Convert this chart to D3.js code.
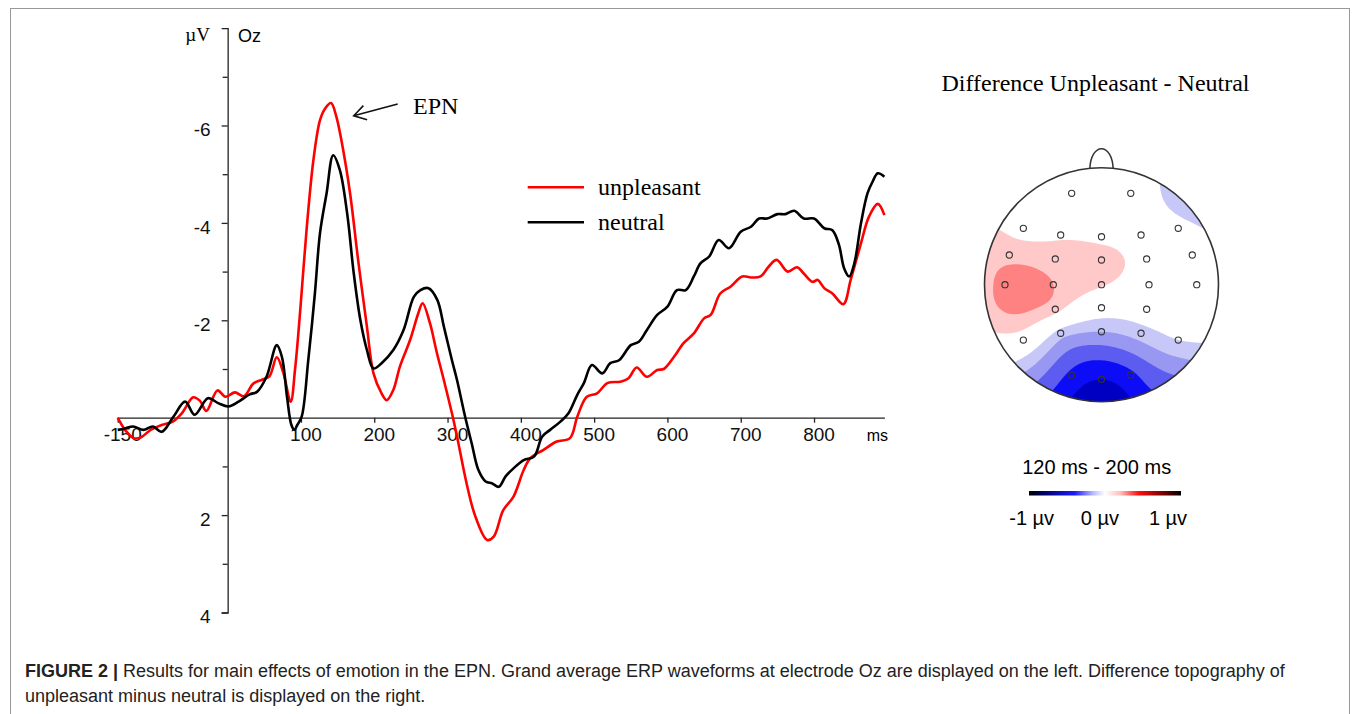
<!DOCTYPE html>
<html>
<head>
<meta charset="utf-8">
<script src="https://cdnjs.cloudflare.com/ajax/libs/d3/7.8.5/d3.min.js"></script>
<style>
  body { margin: 0; background: #fff; }
  svg { display: block; font-family: "Liberation Sans", Arial, sans-serif; }
</style>
</head>
<body>
<svg id="fig" width="1358" height="714"></svg>
<script>
// Grand average ERP at Oz (ms, µV; negative is up)
const unpleasantMs = [-150,-140,-128,-118,-105,-90,-75,-62,-47,-38,-29,-14,-3,10,22,35,47,57,67,76,
  86,92,99,108,117,126,133,141,148,156,167,178,190,199,210,217,226,235,249,260,
  266,276,285,295,306,313,326,338,354,363,376,390,404,413,431,449,467,477,490,504,
  518,536,547,558,572,586,595,609,622,636,650,659,672,686,702,714,727,738,749,764,
  777,786,798,805,814,825,840,850,864,875,887,896];
const unpleasantUv = [0.0,0.25,0.42,0.40,0.25,0.15,0.08,-0.10,-0.42,-0.35,-0.14,-0.56,-0.43,-0.52,-0.44,-0.70,-0.78,-0.85,-1.24,-0.92,
  -0.33,-1.0,-2.2,-3.92,-5.29,-6.11,-6.35,-6.46,-6.2,-5.63,-4.61,-3.24,-1.87,-0.91,-0.50,-0.36,-0.57,-1.05,-1.60,-2.14,
  -2.35,-1.94,-1.36,-0.77,-0.09,0.39,1.35,2.03,2.51,2.44,1.90,1.62,1.07,0.83,0.66,0.49,0.42,-0.02,-0.43,-0.50,
  -0.71,-0.74,-0.81,-1.03,-0.84,-0.98,-1.0,-1.25,-1.53,-1.73,-2.04,-2.11,-2.55,-2.69,-2.90,-2.88,-2.90,-3.10,-3.24,-3.0,
  -3.09,-2.96,-2.79,-2.83,-2.66,-2.55,-2.33,-2.83,-3.58,-4.13,-4.39,-4.16];

const neutralMs = [-150,-140,-129,-115,-102,-90,-74,-58,-45,-27,-13,1,15,30,40,53,67,74,81,87,
  91,95,101,110,119,126,135,144,153,163,172,181,190,199,210,226,240,254,263,274,
  286,295,306,313,324,333,342,352,361,370,379,390,404,418,429,440,454,465,477,486,
  497,511,522,534,550,561,572,586,600,613,625,636,645,657,670,684,700,714,725,736,
  750,761,773,786,800,814,825,834,841,848,855,864,873,880,887,896];
const neutralUv = [0.25,0.22,0.18,0.25,0.18,0.29,-0.02,-0.33,-0.06,-0.40,-0.30,-0.23,-0.33,-0.48,-0.53,-0.84,-1.49,-1.25,-0.43,0.15,
  0.25,0.15,-0.02,-1.18,-2.55,-3.79,-4.61,-5.39,-5.09,-4.20,-2.97,-2.01,-1.39,-1.01,-1.12,-1.39,-1.80,-2.48,-2.62,-2.66,
  -2.42,-1.87,-1.18,-0.77,-0.02,0.53,1.07,1.31,1.35,1.42,1.21,1.04,0.87,0.80,0.39,0.25,0.08,-0.09,-0.47,-0.71,
  -1.08,-0.91,-1.12,-1.18,-1.49,-1.56,-1.80,-2.11,-2.28,-2.62,-2.62,-2.90,-3.17,-3.31,-3.65,-3.48,-3.82,-3.92,-4.09,-4.09,
  -4.18,-4.18,-4.25,-4.09,-4.09,-3.89,-3.85,-3.55,-3.07,-2.90,-3.17,-3.99,-4.61,-4.85,-5.02,-4.95];

const xTickValues = [-150,100,200,300,400,500,600,700,800];
const yTickValues = [-6,-4,-2,2,4];
const yMinorTicks = [-7,-5,-3,-1,1,3];
const seriesNames = ["unpleasant","neutral"];
const epnArrow = {from: [232,-6.44], to: [172,-6.2]};

// Topography: electrode positions in head units (-1..1) and difference values (µV)
const electrodeX = [-0.255,0.25,-0.668,-0.349,0,0.338,0.656,-0.788,-0.395,0,0.386,0.776,-0.825,-0.412,0,0.406,0.814,
  -0.395,0,0.386,-0.668,-0.349,0,0.338,0.656,-0.255,0,0.25];
const electrodeY = [-0.781,-0.781,-0.482,-0.425,-0.41,-0.425,-0.482,-0.254,-0.22,-0.211,-0.22,-0.254,0,0,0,0,0,
  0.21,0.197,0.21,0.473,0.415,0.402,0.415,0.473,0.772,0.809,0.772];
const electrodeUv = [0.0,-0.05,0.12,0.17,0.12,0.03,-0.1,0.32,0.3,0.34,0.1,0.0,0.52,0.4,0.22,0.02,0.0,
  0.28,-0.05,-0.05,0.06,-0.3,-0.4,-0.3,-0.2,-0.85,-1.0,-0.85];
const rimAngleDeg = [0,22.5,45,67.5,90,112.5,135,157.5,180,202.5,225,247.5,270,292.5,315,337.5];
const rimUv = [0.0,-0.12,-0.32,-0.15,-0.02,-0.1,-0.5,-0.85,-1.15,-0.85,-0.3,0.22,0.3,0.26,0.05,0.0];
const redLevels = [0.2,0.4];
const blueLevels = [-0.2,-0.4,-0.6,-0.8,-1.0];
const redColors = ["#ffc9c9","#ff8282"];
const blueColors = ["#c8c8f8","#9898f3","#5c5cf0","#0c0cf6","#0000c2"];

const svg = d3.select("#fig");

// frame
svg.append("rect").attr("x",10.5).attr("y",8.5).attr("width",1339).attr("height",740)
  .attr("fill","none").attr("stroke","#999").attr("stroke-width",1);

// ---------- ERP panel ----------
const x = d3.scaleLinear().domain([-150,896]).range([117.7,884.4]);
const y = d3.scaleLinear().domain([-8,4]).range([28.1,612.5]);

const xAxis = svg.append("g").attr("transform",`translate(0,${y(0)})`)
  .call(d3.axisBottom(x).tickValues(xTickValues).tickSize(5).tickSizeOuter(0).tickPadding(5).tickFormat(d => String(d)));
xAxis.selectAll("text").attr("font-size",19).attr("dx",4.5).attr("fill","#111").attr("font-family","Liberation Sans, Arial");

const yAxis = svg.append("g").attr("transform",`translate(${x(0)},0)`)
  .call(d3.axisLeft(y).tickValues(yTickValues).tickSize(6).tickSizeOuter(6).tickPadding(11).tickFormat(d => String(d)));
yAxis.selectAll("text").attr("font-size",19).attr("dy","0.55em").attr("fill","#111").attr("font-family","Liberation Sans, Arial");
svg.append("g").attr("transform",`translate(${x(0)},0)`)
  .call(d3.axisLeft(y).tickValues(yMinorTicks).tickSize(5).tickFormat(""))
  .select(".domain").remove();
svg.selectAll(".domain, .tick line").attr("stroke","#222").attr("stroke-width",1.3);

svg.append("text").attr("x",888).attr("y",441).attr("text-anchor","end").attr("font-size",16).text("ms");
svg.append("text").attr("x",210).attr("y",41).attr("text-anchor","end")
  .attr("font-family","Liberation Serif, Times New Roman, serif").attr("font-size",19).text("µV");
svg.append("text").attr("x",238).attr("y",42).attr("font-size",18).text("Oz");

const line = d3.line().x(d => x(d[0])).y(d => y(d[1])).curve(d3.curveCatmullRom.alpha(0.5));
const seriesData = [
  {name: seriesNames[0], color: "#ff0000", pts: d3.zip(unpleasantMs, unpleasantUv)},
  {name: seriesNames[1], color: "#000000", pts: d3.zip(neutralMs, neutralUv)}
];
svg.append("g").selectAll("path").data(seriesData).join("path")
  .attr("d", d => line(d.pts)).attr("fill","none")
  .attr("stroke", d => d.color).attr("stroke-width",2.6).attr("stroke-linejoin","round");

// legend
const legend = svg.append("g").attr("font-family","Liberation Serif, Times New Roman, serif").attr("font-size",24);
seriesData.forEach((s, i) => {
  const ly = 187.3 + i * 35;
  legend.append("line").attr("x1",527.7).attr("x2",584).attr("y1",ly).attr("y2",ly)
    .attr("stroke",s.color).attr("stroke-width",2.6);
  legend.append("text").attr("x",598).attr("y",ly + 7.5).text(s.name);
});

// EPN annotation
const ax1 = x(epnArrow.from[0]), ay1 = y(epnArrow.from[1]);
const ax2 = x(epnArrow.to[0]), ay2 = y(epnArrow.to[1]);
const ang = Math.atan2(ay1 - ay2, ax1 - ax2);
const head = [ang + 0.55, ang - 0.55].map(a => [ax2 + 14 * Math.cos(a), ay2 + 14 * Math.sin(a)]);
svg.append("path")
  .attr("d", `M${ax1},${ay1}L${ax2},${ay2}M${head[0]}L${ax2},${ay2}L${head[1]}`)
  .attr("fill","none").attr("stroke","#111").attr("stroke-width",1.6);
svg.append("text").attr("x",413).attr("y",114)
  .attr("font-family","Liberation Serif, Times New Roman, serif").attr("font-size",24).text("EPN");

// ---------- topography ----------
const cx = 1101.5, cy = 284.7, R = 117;

svg.append("text").attr("x",1095.5).attr("y",91).attr("text-anchor","middle")
  .attr("font-family","Liberation Serif, Times New Roman, serif").attr("font-size",24)
  .text("Difference Unpleasant - Neutral");

// thin-plate spline through electrodes and rim points
const srcPts = electrodeX.map((ex, i) => [ex, electrodeY[i]])
  .concat(rimAngleDeg.map(a => [Math.sin(a * Math.PI / 180), -Math.cos(a * Math.PI / 180)]));
const srcVal = electrodeUv.concat(rimUv);

function tps(pts, vals) {
  const n = pts.length, N = n + 3;
  const U = r => r <= 0 ? 0 : r * r * Math.log(r);
  const A = [];
  for (let i = 0; i < N; i++) A.push(new Array(N + 1).fill(0));
  for (let i = 0; i < n; i++) {
    for (let j = 0; j < n; j++) A[i][j] = U(Math.hypot(pts[i][0] - pts[j][0], pts[i][1] - pts[j][1]));
    A[i][n] = 1; A[i][n + 1] = pts[i][0]; A[i][n + 2] = pts[i][1];
    A[n][i] = 1; A[n + 1][i] = pts[i][0]; A[n + 2][i] = pts[i][1];
    A[i][N] = vals[i];
  }
  for (let c = 0; c < N; c++) {
    let p = c;
    for (let r = c + 1; r < N; r++) if (Math.abs(A[r][c]) > Math.abs(A[p][c])) p = r;
    [A[c], A[p]] = [A[p], A[c]];
    for (let r = 0; r < N; r++) {
      if (r === c) continue;
      const f = A[r][c] / A[c][c];
      if (f === 0) continue;
      for (let k = c; k <= N; k++) A[r][k] -= f * A[c][k];
    }
  }
  const w = A.map((row, i) => row[N] / row[i]);
  return (px, py) => {
    let s = w[n] + w[n + 1] * px + w[n + 2] * py;
    for (let i = 0; i < n; i++) s += w[i] * U(Math.hypot(px - pts[i][0], py - pts[i][1]));
    return s;
  };
}
const field = tps(srcPts, srcVal);

const gridN = 161, step = 2 / (gridN - 1);
const grid = new Array(gridN * gridN);
for (let j = 0; j < gridN; j++) for (let i = 0; i < gridN; i++)
  grid[i + j * gridN] = field(-1 + i * step, -1 + j * step);

const defs = svg.append("defs");
defs.append("clipPath").attr("id","headClip").append("circle").attr("cx",cx).attr("cy",cy).attr("r",R);

// nose
const nose = d3.path();
nose.moveTo(cx - 11.7, cy - R + 2);
nose.bezierCurveTo(cx - 11, cy - R - 26, cx + 11, cy - R - 26, cx + 11.7, cy - R + 2);
svg.append("path").attr("d", nose.toString()).attr("fill","#fff").attr("stroke","#333").attr("stroke-width",1.5);
svg.append("circle").attr("cx",cx).attr("cy",cy).attr("r",R).attr("fill","#fff");

const cellPx = step * R;
const topo = svg.append("g").attr("clip-path","url(#headClip)")
  .append("g").attr("transform",`translate(${cx - R - 0.5 * cellPx},${cy - R - 0.5 * cellPx}) scale(${cellPx})`);
const path = d3.geoPath();
const redC = d3.contours().size([gridN, gridN]).thresholds(redLevels)(grid);
topo.selectAll("path.red").data(redC).join("path").attr("class","red")
  .attr("d", path).attr("fill", (d, i) => redColors[i]);
const neg = grid.map(v => -v);
const blueC = d3.contours().size([gridN, gridN]).thresholds(blueLevels.map(v => -v))(neg);
topo.selectAll("path.blue").data(blueC).join("path").attr("class","blue")
  .attr("d", path).attr("fill", (d, i) => blueColors[i]);

svg.append("circle").attr("cx",cx).attr("cy",cy).attr("r",R)
  .attr("fill","none").attr("stroke","#333").attr("stroke-width",1.6);
svg.append("g").selectAll("circle").data(electrodeX).join("circle")
  .attr("cx", (d, i) => cx + d * R).attr("cy", (d, i) => cy + electrodeY[i] * R)
  .attr("r",3.1).attr("fill","none").attr("stroke","#333").attr("stroke-width",1.1);

// colour bar
const grad = defs.append("linearGradient").attr("id","cbar");
[[0,"#000"],[0.1,"#00006a"],[0.3,"#1a1aff"],[0.42,"#b8b8ff"],[0.5,"#ffffff"],[0.6,"#ffc0c0"],[0.72,"#ff1010"],[0.88,"#7a0000"],[1,"#000"]]
  .forEach(s => grad.append("stop").attr("offset",s[0]).attr("stop-color",s[1]));
svg.append("rect").attr("x",1029).attr("y",491).attr("width",152).attr("height",4.5).attr("fill","url(#cbar)");
svg.append("text").attr("x",1096.7).attr("y",474).attr("text-anchor","middle").attr("font-size",20).text("120 ms - 200 ms");
const cbarScale = d3.scaleLinear().domain([-1,1]).range([1031.7,1168]);
svg.append("g").selectAll("text").data([-1,0,1]).join("text")
  .attr("x", d => cbarScale(d)).attr("y",525).attr("text-anchor","middle").attr("font-size",20)
  .text(d => `${d} µv`);

// ---------- caption ----------
const cap = svg.append("text").attr("x",25).attr("y",677).attr("font-size",18).attr("fill","#222");
cap.append("tspan").attr("font-weight","bold").text("FIGURE 2 |");
cap.append("tspan").text(" Results for main effects of emotion in the EPN. Grand average ERP waveforms at electrode Oz are displayed on the left. Difference topography of");
svg.append("text").attr("x",25).attr("y",702).attr("font-size",18).attr("fill","#222")
  .text("unpleasant minus neutral is displayed on the right.");
</script>
</body>
</html>
